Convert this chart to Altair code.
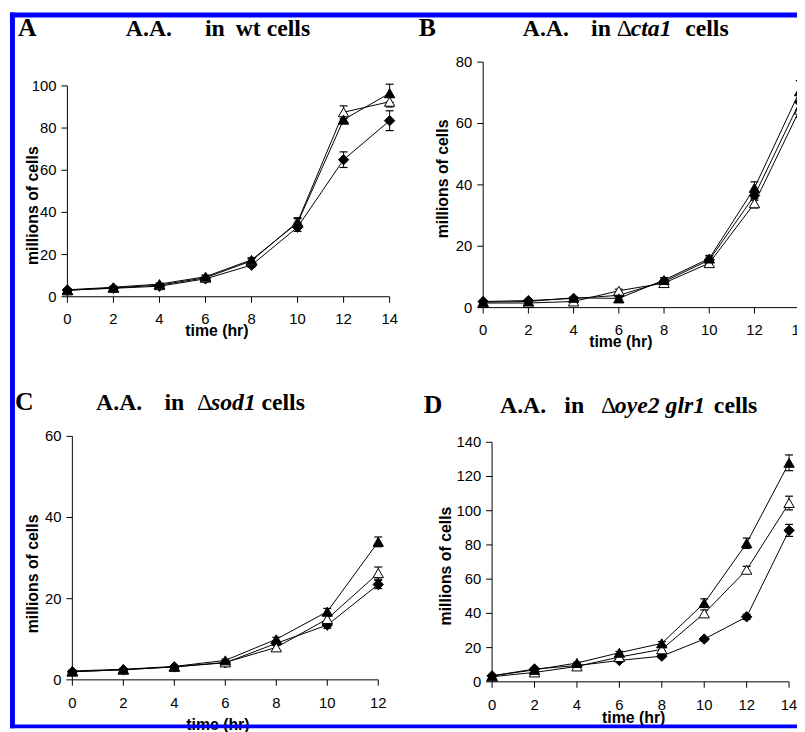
import altair as alt
import pandas as pd

# ---------------- data ----------------
TIMES_14 = [0, 2, 4, 6, 8, 10, 12, 14]
TIMES_12 = [0, 2, 4, 6, 8, 10, 12]
SERIES = ["filled diamond", "open triangle", "filled triangle"]

# Panel A: wt cells
A_DIAMOND = [3.2, 4.0, 5.0, 8.5, 15.0, 33.0, 65.0, 83.5]
A_DIAMOND_ERR = [0.5, 0.5, 0.5, 0.8, 1.0, 2.0, 3.7, 4.7]
A_OPEN = [3.0, 4.2, 5.5, 9.0, 17.0, 35.5, 87.5, 92.5]
A_OPEN_ERR = [0.5, 0.5, 0.5, 0.8, 1.0, 2.0, 3.0, 2.5]
A_FILLED = [3.3, 4.5, 6.0, 9.5, 17.5, 35.0, 84.0, 96.5]
A_FILLED_ERR = [0.5, 0.5, 0.5, 0.8, 1.0, 2.0, 2.0, 4.3]

# Panel B: delta cta1 cells
B_DIAMOND = [2.0, 2.3, 3.0, 4.0, 8.5, 15.5, 36.5, 67.0]
B_DIAMOND_ERR = [0.3, 0.3, 0.3, 0.5, 0.8, 1.0, 1.5, 2.5]
B_OPEN = [1.5, 1.5, 2.0, 5.5, 8.0, 14.5, 34.0, 64.5]
B_OPEN_ERR = [0.3, 0.3, 0.3, 0.5, 0.8, 1.0, 1.5, 2.5]
B_FILLED = [1.8, 2.0, 3.2, 3.0, 9.0, 16.0, 39.0, 70.5]
B_FILLED_ERR = [0.3, 0.3, 0.3, 0.5, 0.8, 1.0, 2.0, 3.5]

# Panel C: delta sod1 cells
C_DIAMOND = [2.0, 2.5, 3.2, 4.2, 9.0, 13.5, 23.5]
C_DIAMOND_ERR = [0.2, 0.2, 0.2, 0.3, 0.5, 0.8, 1.0]
C_OPEN = [2.0, 2.5, 3.2, 4.3, 8.0, 15.0, 26.3]
C_OPEN_ERR = [0.2, 0.2, 0.2, 0.3, 0.5, 0.8, 1.5]
C_FILLED = [2.2, 2.6, 3.3, 4.8, 10.0, 16.8, 34.0]
C_FILLED_ERR = [0.2, 0.2, 0.2, 0.3, 0.5, 0.8, 1.2]

# Panel D: delta oye2 glr1 cells
D_DIAMOND = [3.5, 7.5, 9.5, 12.5, 15.0, 25.0, 38.0, 88.5]
D_DIAMOND_ERR = [0.5, 0.5, 0.5, 0.8, 1.0, 1.0, 1.5, 3.5]
D_OPEN = [3.0, 5.5, 9.0, 14.5, 19.0, 40.0, 65.5, 104.5]
D_OPEN_ERR = [0.5, 0.5, 0.5, 0.8, 1.0, 2.0, 2.0, 4.0]
D_FILLED = [3.5, 7.0, 11.0, 17.0, 22.5, 46.0, 81.0, 128.0]
D_FILLED_ERR = [0.5, 0.5, 0.5, 0.8, 1.0, 2.5, 3.0, 4.6]

A_YTICKS = [0, 20, 40, 60, 80, 100]
B_YTICKS = [0, 20, 40, 60, 80]
C_YTICKS = [0, 20, 40, 60]
D_YTICKS = [0, 20, 40, 60, 80, 100, 120, 140]

X_TITLE = "time (hr)"
Y_TITLE = "millions of cells"
PANEL_LETTERS = ["A", "B", "C", "D"]
# title pieces: (text, style) ; style b = bold, r = regular, bi = bold italic
TITLES = [
    [("A.A.", "b"), ("in", "b"), ("wt cells", "b")],
    [("A.A.", "b"), ("in", "b"), ("\u0394", "r"), ("cta1", "bi"), ("cells", "b")],
    [("A.A.", "b"), ("in", "b"), ("\u0394", "r"), ("sod1", "bi"), ("cells", "b")],
    [("A.A.", "b"), ("in", "b"), ("\u0394", "r"), ("oye2 glr1", "bi"), ("cells", "b")],
]

# ---------------- layout (page pixels) ----------------
OFF = 8
W, H = 797, 724
SANS = "Liberation Sans"
SERIF = "Liberation Serif"
TITLE_SIZE = 24
TICK_SIZE = 15

LAYOUT = [
    dict(times=TIMES_14, xmax=14, ymax=100, yticks=A_YTICKS, xr=[68, 393.5], yr=[296, 83],
         letter=(18, 33), title_y=33, title_x=[127, 207, 238], ytitle=(38.3, 204), xtitle=(219, 336),
         vals=[(A_DIAMOND, A_DIAMOND_ERR), (A_OPEN, A_OPEN_ERR), (A_FILLED, A_FILLED_ERR)]),
    dict(times=TIMES_14, xmax=14, ymax=80, yticks=B_YTICKS, xr=[488, 807.7], yr=[307, 59],
         letter=(423, 33), title_y=33, title_x=[528, 597, 623, 637, 692], ytitle=(452.7, 177), xtitle=(627, 347),
         vals=[(B_DIAMOND, B_DIAMOND_ERR), (B_OPEN, B_OPEN_ERR), (B_FILLED, B_FILLED_ERR)]),
    dict(times=TIMES_12, xmax=12, ymax=60, yticks=C_YTICKS, xr=[73, 382], yr=[683, 437],
         letter=(15, 410), title_y=410, title_x=[97, 166, 199, 213, 264], ytitle=(38.3, 576), xtitle=(220, 733.5),
         vals=[(C_DIAMOND, C_DIAMOND_ERR), (C_OPEN, C_OPEN_ERR), (C_FILLED, C_FILLED_ERR)]),
    dict(times=TIMES_14, xmax=14, ymax=140, yticks=D_YTICKS, xr=[497, 797], yr=[685, 443],
         letter=(428, 413), title_y=413, title_x=[505, 570, 607, 621, 721], ytitle=(455, 568), xtitle=(640, 727),
         vals=[(D_DIAMOND, D_DIAMOND_ERR), (D_OPEN, D_OPEN_ERR), (D_FILLED, D_FILLED_ERR)]),
]

STYLE = {"b": ("bold", "normal"), "r": ("normal", "normal"), "bi": ("bold", "italic")}
ONE = pd.DataFrame({"k": [0]})


def px(v):
    return v - OFF


layers = []
point_shape = alt.Shape("series:N", scale=alt.Scale(domain=SERIES, range=["diamond", "triangle-up", "triangle-up"]), legend=None)
point_fill = alt.Fill("series:N", scale=alt.Scale(domain=SERIES, range=["black", "white", "black"]), legend=None)

for i, p in enumerate(LAYOUT):
    xsc = alt.Scale(domain=[0, p["xmax"]], range=[px(p["xr"][0]), px(p["xr"][1])], nice=False, zero=False)
    ysc = alt.Scale(domain=[0, p["ymax"]], range=[px(p["yr"][0]), px(p["yr"][1])], nice=False, zero=False)

    def X(f):
        return alt.X(f, type="quantitative", scale=xsc, axis=None)

    def Y(f):
        return alt.Y(f, type="quantitative", scale=ysc, axis=None)

    rows = []
    for name, (vals, errs) in zip(SERIES, p["vals"]):
        for t, v, e in zip(p["times"], vals, errs):
            rows.append(dict(t=t, value=v, lo=v - e, hi=v + e, series=name))
    df = pd.DataFrame(rows)
    xt = pd.DataFrame({"t": [t for t in TIMES_14 if t <= p["xmax"]], "zero": 0})
    yt = pd.DataFrame({"v": p["yticks"], "zero": 0})
    ax = pd.DataFrame({"x0": [0], "x1": [p["xmax"]], "y0": [0], "y1": [p["ymax"]]})

    # axes
    layers.append(alt.Chart(ax).mark_rule(color="black", strokeWidth=1).encode(x=X("x0"), x2="x1", y=Y("y0")))
    layers.append(alt.Chart(ax).mark_rule(color="black", strokeWidth=1).encode(x=X("x0"), y=Y("y0"), y2="y1"))
    layers.append(alt.Chart(xt).mark_tick(orient="vertical", size=6, thickness=1, yOffset=3, color="black", opacity=1)
                  .encode(x=X("t"), y=Y("zero")))
    layers.append(alt.Chart(yt).mark_tick(orient="horizontal", size=6, thickness=1, xOffset=-3, color="black", opacity=1)
                  .encode(x=X("zero"), y=Y("v")))
    layers.append(alt.Chart(xt).mark_text(font=SANS, fontSize=TICK_SIZE, dy=28, baseline="alphabetic", align="center", color="black")
                  .encode(x=X("t"), y=Y("zero"), text="t:Q"))
    layers.append(alt.Chart(yt).mark_text(font=SANS, fontSize=TICK_SIZE, dx=-11, baseline="middle", align="right", color="black")
                  .encode(x=X("zero"), y=Y("v"), text="v:Q"))

    # data
    layers.append(alt.Chart(df).mark_line(color="black", strokeWidth=1)
                  .encode(x=X("t"), y=Y("value"), detail="series:N", order="t:Q"))
    layers.append(alt.Chart(df).mark_rule(color="black", strokeWidth=1)
                  .encode(x=X("t"), y=Y("lo"), y2="hi"))
    for cap in ("lo", "hi"):
        layers.append(alt.Chart(df).mark_tick(orient="horizontal", size=8, thickness=1.2, color="black", opacity=1)
                      .encode(x=X("t"), y=Y(cap)))
    layers.append(alt.Chart(df).mark_point(filled=True, size=110, stroke="black", strokeWidth=1, opacity=1)
                  .encode(x=X("t"), y=Y("value"), shape=point_shape, fill=point_fill))

    # text annotations
    layers.append(alt.Chart(ONE).mark_text(font=SANS, fontSize=16, fontWeight="bold", angle=270,
                                           baseline="alphabetic", align="center", color="black")
                  .encode(x=alt.value(px(p["ytitle"][0])), y=alt.value(px(p["ytitle"][1])), text=alt.value(Y_TITLE)))
    layers.append(alt.Chart(ONE).mark_text(font=SANS, fontSize=16, fontWeight="bold",
                                           baseline="alphabetic", align="center", color="black")
                  .encode(x=alt.value(px(p["xtitle"][0])), y=alt.value(px(p["xtitle"][1])), text=alt.value(X_TITLE)))
    layers.append(alt.Chart(ONE).mark_text(font=SERIF, fontSize=26, fontWeight="bold",
                                           baseline="alphabetic", align="left", color="black")
                  .encode(x=alt.value(px(p["letter"][0])), y=alt.value(px(p["letter"][1])), text=alt.value(PANEL_LETTERS[i])))
    for (seg, st), xpos in zip(TITLES[i], p["title_x"]):
        wgt, sty = STYLE[st]
        layers.append(alt.Chart(ONE).mark_text(font=SERIF, fontSize=TITLE_SIZE, fontWeight=wgt, fontStyle=sty,
                                               baseline="alphabetic", align="left", color="black")
                      .encode(x=alt.value(px(xpos)), y=alt.value(px(p["title_y"])), text=alt.value(seg)))

# blue frame
BLUE = "#0000ff"
layers.append(alt.Chart(ONE).mark_rule(color=BLUE, strokeWidth=5)
              .encode(x=alt.value(px(10)), x2=alt.value(W), y=alt.value(px(11.5))))
layers.append(alt.Chart(ONE).mark_rule(color=BLUE, strokeWidth=5)
              .encode(x=alt.value(px(12.5)), y=alt.value(px(9)), y2=alt.value(H)))
layers.append(alt.Chart(ONE).mark_rule(color=BLUE, strokeWidth=4)
              .encode(x=alt.value(px(10)), x2=alt.value(W), y=alt.value(px(730))))

chart = alt.layer(*layers).resolve_scale(x="independent", y="independent").properties(
    width=W, height=H, padding=0, autosize=alt.AutoSizeParams(type="none"), background="white"
).configure_view(stroke=None)

chart.save("out.html", embed_options={"renderer": "svg", "actions": False})
